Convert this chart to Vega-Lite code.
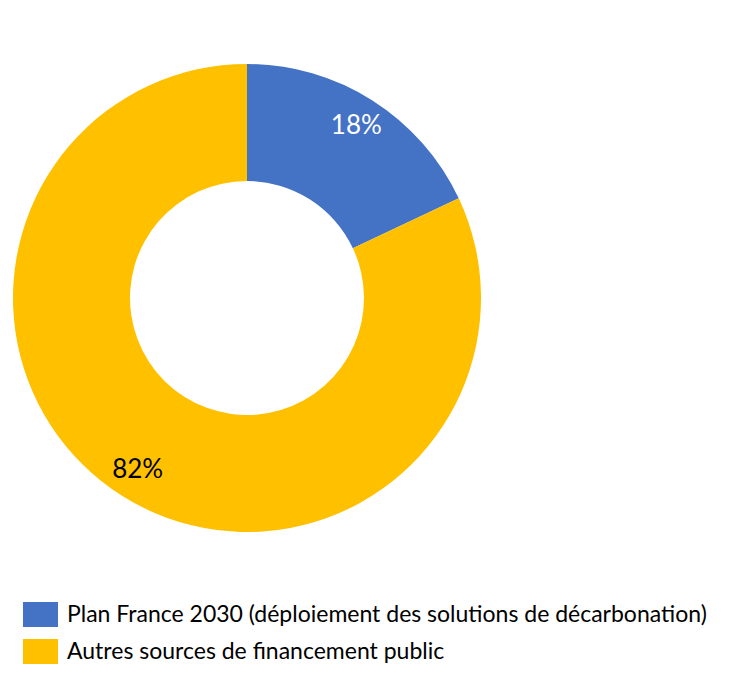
{
  "$schema": "https://vega.github.io/schema/vega-lite/v6.json",
  "width": 494,
  "height": 596,
  "autosize": {"type": "none"},
  "padding": {"left": 0, "top": 0, "right": 237, "bottom": 86},
  "background": "white",
  "config": {"view": {"stroke": null}},
  "data": {
    "values": [
      {"source": "Plan France 2030 (déploiement des solutions de décarbonation)", "share": 18, "label": "18%", "rank": 1},
      {"source": "Autres sources de financement public", "share": 82, "label": "82%", "rank": 2}
    ]
  },
  "encoding": {
    "theta": {"field": "share", "type": "quantitative", "stack": true},
    "order": {"field": "rank", "type": "quantitative"}
  },
  "resolve": {"scale": {"color": "independent"}, "legend": {"color": "independent"}},
  "layer": [
    {
      "mark": {"type": "arc", "outerRadius": 234, "innerRadius": 117},
      "encoding": {
        "color": {
          "field": "source",
          "type": "nominal",
          "sort": ["Plan France 2030 (déploiement des solutions de décarbonation)", "Autres sources de financement public"],
          "scale": {
            "domain": ["Plan France 2030 (déploiement des solutions de décarbonation)", "Autres sources de financement public"],
            "range": ["#4472C4", "#FFC000"]
          },
          "legend": {
            "title": null,
            "orient": "none",
            "legendX": 28,
            "legendY": 602,
            "padding": 0,
            "symbolType": "M-1.4,-1L1.4,-1L1.4,1L-1.4,1Z",
            "symbolSize": 625,
            "symbolStrokeWidth": 0,
            "labelOffset": 14,
            "labelFont": "Lato",
            "labelFontSize": 23,
            "labelColor": "#000000",
            "labelLimit": 800,
            "rowPadding": 12
          }
        }
      }
    },
    {
      "mark": {"type": "text", "radius": 204, "font": "Lato", "fontSize": 26},
      "encoding": {
        "text": {"field": "label"},
        "color": {
          "field": "label",
          "type": "nominal",
          "scale": {"domain": ["18%", "82%"], "range": ["#FFFFFF", "#000000"]},
          "legend": null
        }
      }
    }
  ]
}
